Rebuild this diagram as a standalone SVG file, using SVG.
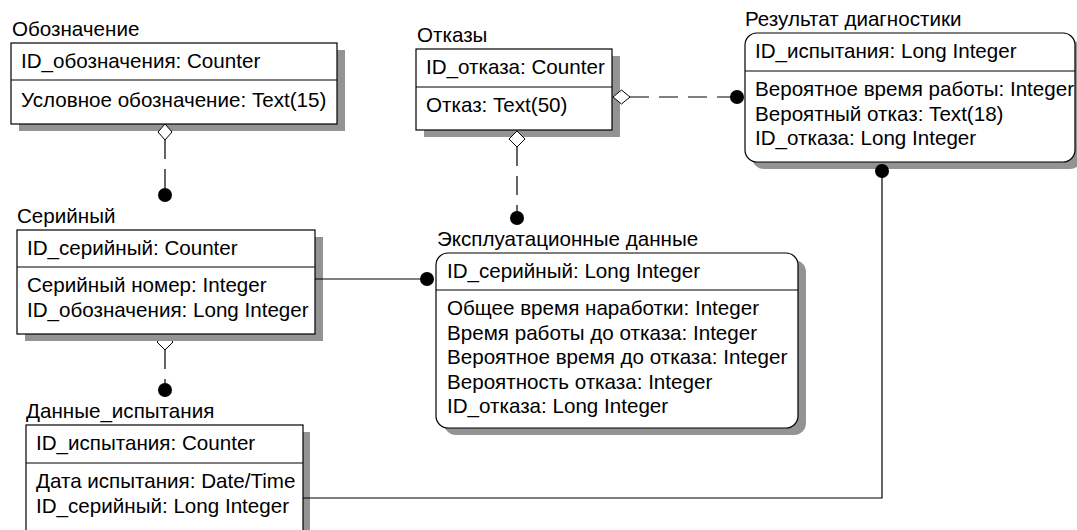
<svg xmlns="http://www.w3.org/2000/svg" width="1077" height="530" viewBox="0 0 1077 530">
<style>
text{font-family:"Liberation Sans",Arial,sans-serif;font-size:20.6px;fill:#000}
.box{fill:#fff;stroke:#000;stroke-width:1.2}
.sh{fill:#939393}
.div{stroke:#000;stroke-width:1}
.ln{fill:none;stroke:#000;stroke-width:1.2}
.dash{fill:none;stroke:#000;stroke-width:1.2;stroke-dasharray:19 10}
.dia{fill:#fff;stroke:#000;stroke-width:1}
.dot{fill:#000}
</style>
<rect width="1077" height="530" fill="#fff"/>

<!-- diamond under Серийный shadow -->
<polygon class="dia" points="165,334 173,342 165,350 157,342"/>

<g id="oboznachenie">
<rect class="sh" x="19" y="50" width="326" height="81"/>
<rect class="box" x="11" y="43" width="326" height="81"/>
<line class="div" x1="11" y1="80" x2="337" y2="80"/>
<text x="12" y="36">Обозначение</text>
<text x="21" y="68">ID_обозначения: Counter</text>
<text x="21" y="107">Условное обозначение: Text(15)</text>
</g>

<g id="otkazy">
<rect class="sh" x="424" y="56" width="196" height="81"/>
<rect class="box" x="416" y="49" width="196" height="81"/>
<line class="div" x1="416" y1="87" x2="612" y2="87"/>
<text x="417" y="42">Отказы</text>
<text x="426" y="74">ID_отказа: Counter</text>
<text x="426" y="112">Отказ: Text(50)</text>
</g>

<g id="rezultat">
<rect class="sh" x="752" y="40" width="330" height="129" rx="12"/>
<rect class="box" x="745" y="33" width="330" height="129" rx="12"/>
<line class="div" x1="745" y1="71" x2="1075" y2="71"/>
<text x="745" y="26">Результат диагностики</text>
<text x="755" y="58">ID_испытания: Long Integer</text>
<text x="755" y="96">Вероятное время работы: Integer</text>
<text x="755" y="120.5">Вероятный отказ: Text(18)</text>
<text x="755" y="145">ID_отказа: Long Integer</text>
</g>

<g id="seriyny">
<rect class="sh" x="25" y="237" width="298" height="104"/>
<rect class="box" x="17" y="230" width="298" height="104"/>
<line class="div" x1="17" y1="267" x2="315" y2="267"/>
<text x="17" y="223">Серийный</text>
<text x="27" y="255">ID_серийный: Counter</text>
<text x="27" y="292">Серийный номер: Integer</text>
<text x="27" y="316.5">ID_обозначения: Long Integer</text>
</g>

<g id="ekspluatatsionnye">
<rect class="sh" x="444" y="260" width="362" height="175" rx="12"/>
<rect class="box" x="436" y="253" width="362" height="175" rx="12"/>
<line class="div" x1="436" y1="290" x2="798" y2="290"/>
<text x="437" y="246">Эксплуатационные данные</text>
<text x="447" y="278">ID_серийный: Long Integer</text>
<text x="447" y="315">Общее время наработки: Integer</text>
<text x="447" y="339.5">Время работы до отказа: Integer</text>
<text x="447" y="364">Вероятное время до отказа: Integer</text>
<text x="447" y="388.5">Вероятность отказа: Integer</text>
<text x="447" y="413">ID_отказа: Long Integer</text>
</g>

<g id="dannye_ispytaniya">
<rect class="sh" x="33" y="432" width="277" height="110"/>
<rect class="box" x="26" y="425" width="277" height="110"/>
<line class="div" x1="26" y1="463" x2="303" y2="463"/>
<text x="26" y="418">Данные_испытания</text>
<text x="36" y="450">ID_испытания: Counter</text>
<text x="36" y="488">Дата испытания: Date/Time</text>
<text x="36" y="512.5">ID_серийный: Long Integer</text>
</g>

<g id="connectors">
<!-- Обозначение - Серийный -->
<line class="dash" x1="165" y1="140" x2="165" y2="190"/>
<polygon class="dia" points="165,124 172,132 165,140 158,132"/>
<circle class="dot" cx="165" cy="195" r="7"/>
<!-- Серийный - Данные_испытания -->
<line class="dash" x1="165" y1="350" x2="165" y2="385"/>
<circle class="dot" cx="165" cy="390" r="7"/>
<!-- Отказы - Результат -->
<line class="dash" x1="630" y1="97" x2="732" y2="97"/>
<polygon class="dia" points="613,97 621.5,90 630,97 621.5,104"/>
<circle class="dot" cx="737" cy="97" r="7"/>
<!-- Отказы - Эксплуатационные -->
<line class="dash" x1="517" y1="147" x2="517" y2="213"/>
<polygon class="dia" points="517,131 525,139 517,147 509,139"/>
<circle class="dot" cx="517" cy="218" r="7"/>
<!-- Серийный - Эксплуатационные -->
<line class="ln" x1="315" y1="279" x2="422" y2="279"/>
<circle class="dot" cx="427" cy="279" r="7"/>
<!-- Результат - Данные_испытания -->
<polyline class="ln" points="882,171 882,498 303,498"/>
<circle class="dot" cx="882" cy="171" r="7"/>
</g>
</svg>
